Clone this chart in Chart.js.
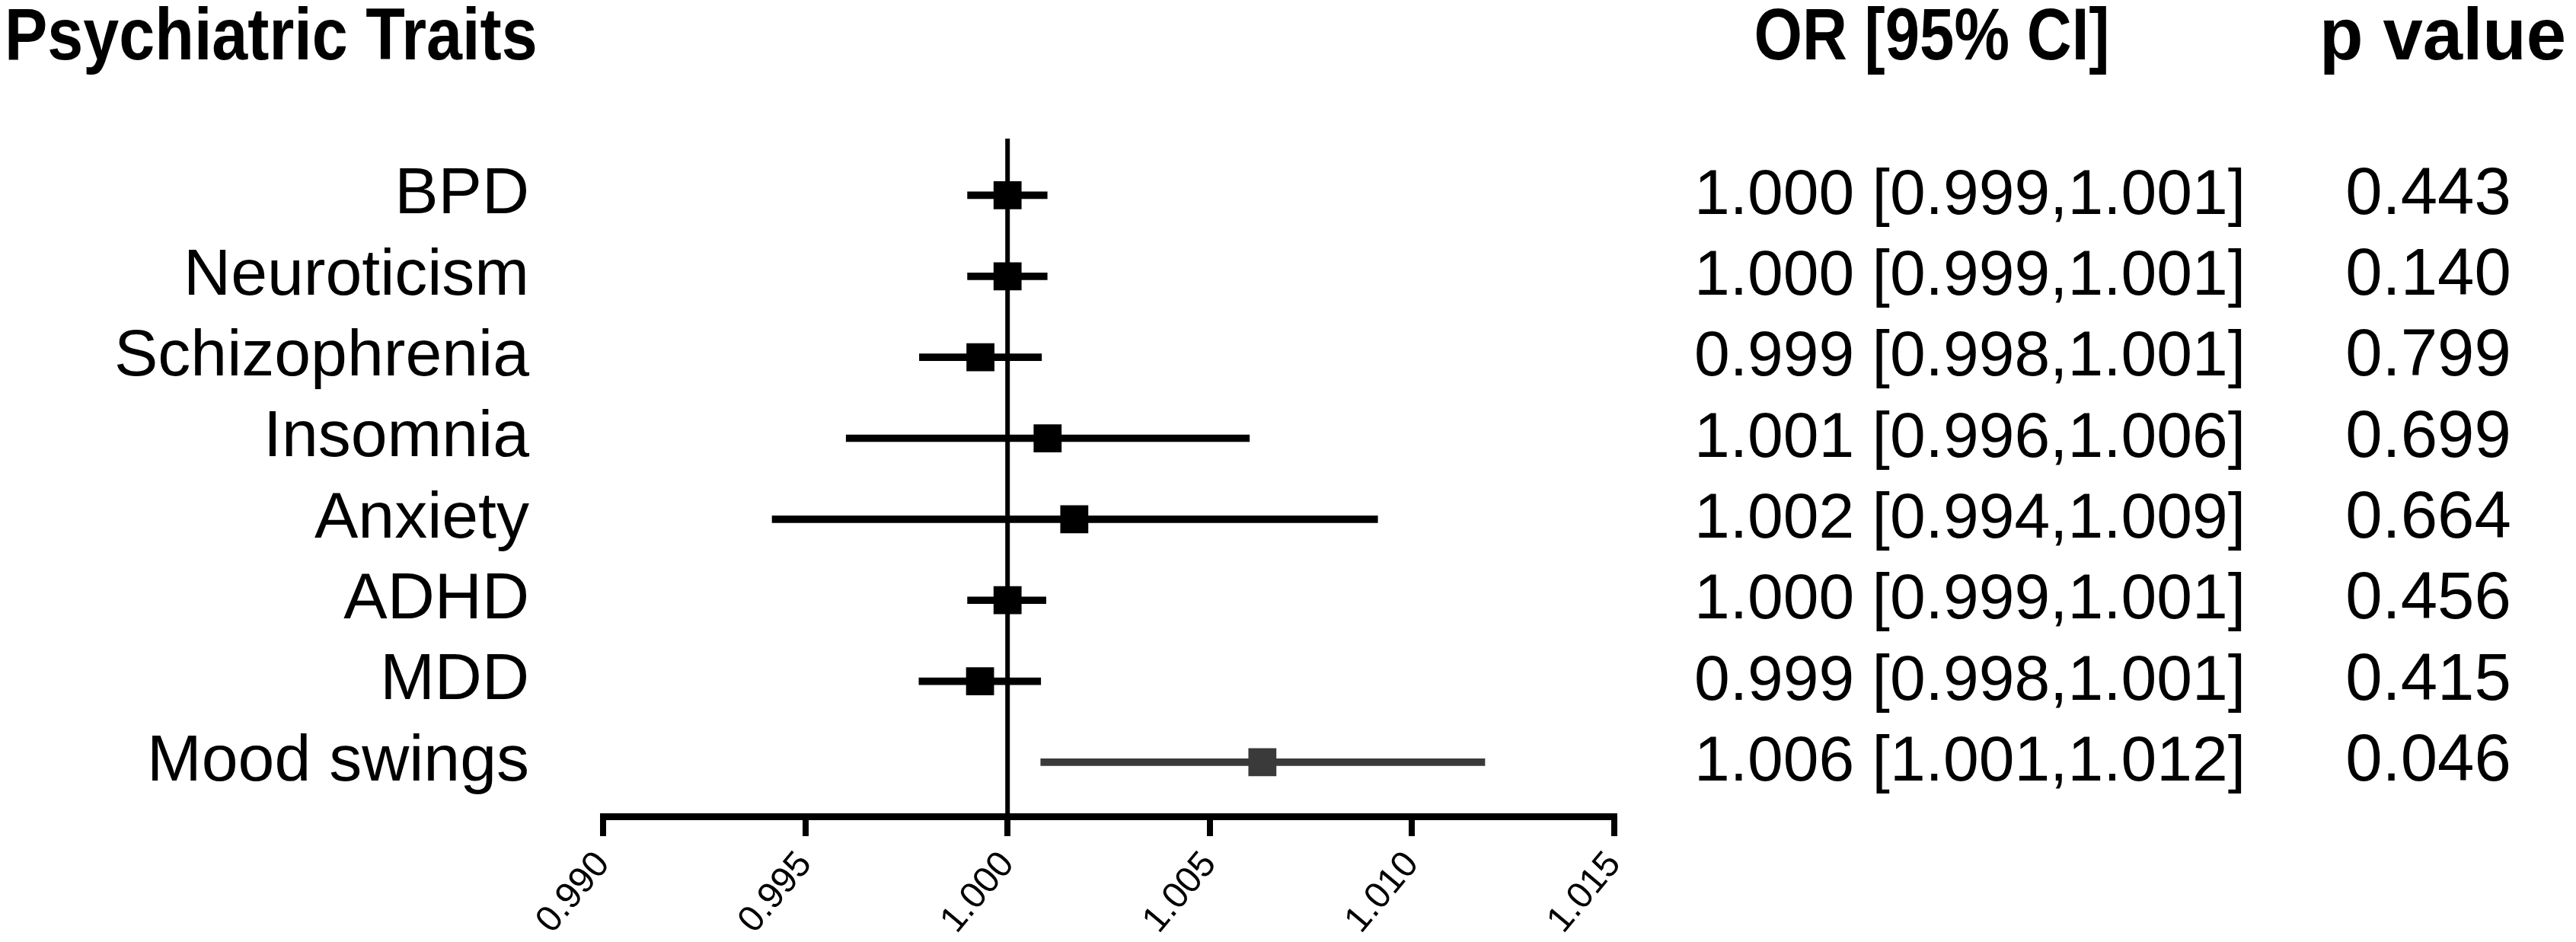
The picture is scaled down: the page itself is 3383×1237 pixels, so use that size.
<!DOCTYPE html>
<html>
<head>
<meta charset="utf-8">
<script src="https://cdn.jsdelivr.net/npm/chart.js@4.4.0/dist/chart.umd.min.js"></script>
<style>
  html, body { margin: 0; padding: 0; background: #ffffff; }
  #wrap { width: 3383px; height: 1237px; }
</style>
</head>
<body>
<div id="wrap"><canvas id="c" width="3383" height="1237"></canvas></div>
<script>
// ---- data ----
const titleText = 'Psychiatric Traits';
const orHeader = 'OR [95% CI]';
const pHeader = 'p value';
const traits = ['BPD', 'Neuroticism', 'Schizophrenia', 'Insomnia', 'Anxiety', 'ADHD', 'MDD', 'Mood swings'];
const orValues = [1.0000, 1.0000, 0.99933, 1.00099, 1.00165, 1.0000, 0.99932, 1.0063];
const ciLower  = [0.99901, 0.99901, 0.99782, 0.99601, 0.99418, 0.99901, 0.99781, 1.00082];
const ciUpper  = [1.00098, 1.00098, 1.00084, 1.00598, 1.00915, 1.00095, 1.00082, 1.0118];
const orLabels = ['1.000 [0.999,1.001]', '1.000 [0.999,1.001]', '0.999 [0.998,1.001]', '1.001 [0.996,1.006]',
                  '1.002 [0.994,1.009]', '1.000 [0.999,1.001]', '0.999 [0.998,1.001]', '1.006 [1.001,1.012]'];
const pValues  = ['0.443', '0.140', '0.799', '0.699', '0.664', '0.456', '0.415', '0.046'];
const xTicks   = [0.990, 0.995, 1.000, 1.005, 1.010, 1.015];
const refLine  = 1.000;

// ---- styling ----
const FONT = "'Liberation Sans', Arial, Helvetica, sans-serif";
const rowColors = traits.map((t, i) => i === traits.length - 1 ? '#3a3a3a' : '#000000');
const yMin = -0.70, yMax = 7.668;
const rowIdx = traits.map((_, i) => i);

function condensedText(ctx, text, x, y, sx, align) {
  ctx.save();
  ctx.translate(x, y);
  ctx.scale(sx, 1);
  ctx.textAlign = align;
  ctx.fillText(text, 0, 0);
  ctx.restore();
}

const textPlugin = {
  id: 'forestText',
  afterDraw(chart) {
    const { ctx, scales: { y } } = chart;
    ctx.save();
    ctx.fillStyle = '#000';
    ctx.textBaseline = 'alphabetic';
    ctx.font = `bold 96px ${FONT}`;
    condensedText(ctx, titleText, 6, 78, 0.88, 'left');
    condensedText(ctx, orHeader, 2537, 78, 0.85, 'center');
    condensedText(ctx, pHeader, 3208, 78, 0.98, 'center');
    rowIdx.forEach(i => {
      const py = y.getPixelForValue(i) + 0.358 * 84 - 6;
      ctx.font = `84px ${FONT}`;
      condensedText(ctx, orLabels[i], 2587, py, 1, 'center');
      ctx.font = `87px ${FONT}`;
      condensedText(ctx, pValues[i], 3189, py, 1, 'center');
    });
    ctx.restore();
  }
};

new Chart(document.getElementById('c'), {
  type: 'scatter',
  data: {
    datasets: [
      {
        type: 'line',
        data: [{ x: refLine, y: yMin }, { x: refLine, y: yMax }],
        borderColor: '#000', borderWidth: 6, pointRadius: 0, order: 3
      },
      {
        type: 'bar',
        indexAxis: 'y',
        data: rowIdx.map(i => ({ x: [ciLower[i], ciUpper[i]], y: i })),
        backgroundColor: rowColors,
        barThickness: 9, borderWidth: 0, borderSkipped: false, order: 2
      },
      {
        type: 'scatter',
        data: rowIdx.map(i => ({ x: orValues[i], y: i })),
        pointStyle: 'rect', pointRadius: 26, pointHoverRadius: 26,
        backgroundColor: rowColors, borderWidth: 0, order: 1
      }
    ]
  },
  options: {
    responsive: false,
    animation: false,
    devicePixelRatio: 1,
    layout: { padding: { top: 182, right: 1263, left: 0, bottom: 0 } },
    plugins: { legend: { display: false }, tooltip: { enabled: false }, title: { display: false } },
    scales: {
      x: {
        type: 'linear', position: 'bottom', offset: false, min: xTicks[0], max: xTicks[xTicks.length - 1],
        afterBuildTicks: s => { s.ticks = xTicks.map(v => ({ value: v })); },
        afterFit: s => { s.height = 165; s.paddingLeft = 0; s.paddingRight = 0; },
        ticks: {
          callback: v => Number(v).toFixed(3),
          minRotation: 50, maxRotation: 50, autoSkip: false,
          font: { family: FONT, size: 48 }, color: '#000', padding: 10
        },
        grid: { display: true, offset: false, drawOnChartArea: false, drawTicks: true, tickLength: 26,
                tickWidth: 8, tickColor: '#000', color: '#000', lineWidth: 8 },
        border: { display: true, color: '#000', width: 9 }
      },
      y: {
        type: 'linear', position: 'left', offset: false, reverse: true, min: yMin, max: yMax,
        afterBuildTicks: s => { s.ticks = rowIdx.map(v => ({ value: v })); },
        afterFit: s => { s.width = 792; s.paddingTop = 0; s.paddingBottom = 0; },
        ticks: { callback: v => traits[v], autoSkip: false, font: { family: FONT, size: 86 }, color: '#000', padding: 97 },
        grid: { display: false, offset: false, drawTicks: false },
        border: { display: false }
      }
    }
  },
  plugins: [textPlugin]
});
</script>
</body>
</html>
